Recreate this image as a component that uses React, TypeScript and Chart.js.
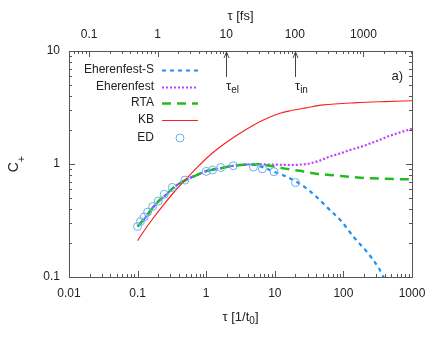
import { useEffect, useRef } from 'react';
import { Chart, registerables } from 'chart.js';

Chart.register(...registerables);

// ---- data ----
const ehrSX = [0.1, 0.13, 0.166, 0.2, 0.26, 0.33, 0.5, 0.7, 1, 1.6, 2.5, 4, 5.5, 8, 9.6, 13, 16.6, 24.8, 38, 60, 94, 140, 218, 322, 420];
const ehrSY = [0.28, 0.335, 0.41, 0.465, 0.535, 0.615, 0.72, 0.79, 0.865, 0.916, 0.965, 0.99, 0.97, 0.9, 0.855, 0.8, 0.747, 0.652, 0.53, 0.405, 0.31, 0.227, 0.168, 0.122, 0.09];

const ehrX = [0.1, 0.13, 0.166, 0.2, 0.26, 0.33, 0.5, 0.7, 1, 1.6, 2.5, 4, 5.5, 8, 12, 17, 25, 32, 45, 63, 90, 125, 180, 245, 350, 480, 700, 1000];
const ehrY = [0.28, 0.335, 0.41, 0.465, 0.535, 0.615, 0.72, 0.79, 0.865, 0.916, 0.965, 0.99, 0.995, 0.99, 0.985, 0.98, 0.99, 1.01, 1.07, 1.16, 1.24, 1.33, 1.42, 1.52, 1.65, 1.78, 1.92, 2.05];

const rtaX = [0.1, 0.13, 0.166, 0.2, 0.26, 0.33, 0.5, 0.7, 1, 1.6, 2.5, 4, 5.5, 8, 14, 23, 40, 63, 100, 176, 400, 1000];
const rtaY = [0.28, 0.335, 0.41, 0.465, 0.535, 0.615, 0.72, 0.79, 0.865, 0.916, 0.965, 0.99, 0.995, 0.97, 0.91, 0.87, 0.82, 0.8, 0.78, 0.756, 0.74, 0.73];

const kbX = [0.1, 0.115, 0.162, 0.237, 0.351, 0.52, 0.746, 1.07, 1.82, 3.11, 4.65, 6.8, 11.9, 16.7, 28.5, 51, 156, 404, 1000];
const kbY = [0.21, 0.239, 0.321, 0.433, 0.577, 0.746, 0.937, 1.16, 1.5, 1.87, 2.17, 2.45, 2.81, 2.96, 3.14, 3.33, 3.49, 3.57, 3.63];

const edX = [0.1, 0.11, 0.125, 0.14, 0.166, 0.2, 0.245, 0.32, 0.49, 1.0, 1.24, 1.63, 2.48, 4.9, 6.6, 9.7, 20];
const edY = [0.28, 0.31, 0.34, 0.375, 0.42, 0.47, 0.54, 0.62, 0.72, 0.86, 0.885, 0.93, 0.965, 0.94, 0.905, 0.855, 0.685];

const seriesNames = ['Eherenfest-S', 'Eherenfest', 'RTA', 'KB', 'ED'];

const xTickValues = [0.01, 0.1, 1, 10, 100, 1000];
const xTickLabels = ['0.01', '0.1', '1', '10', '100', '1000'];
const yTickValues = [0.1, 1, 10];
const yTickLabels = ['0.1', '1', '10'];
const fsTickValues = [0.1, 1, 10, 100, 1000];
const fsTickLabels = ['0.1', '1', '10', '100', '1000'];
const fsPerT0 = 5.1;
const markerFs = [10, 100];
const markerSub = ['el', 'in'];

const X_MIN = 0.01, X_MAX = 1000, Y_MIN = 0.1, Y_MAX = 10;

const FONT = '"Liberation Sans", Arial, sans-serif';
const C_BLUE = '#2090f0';
const C_MAG = '#c040ff';
const C_GREEN = '#22bb22';
const C_RED = '#ff2020';
const C_ED = '#6ab0f0';
const C_AXIS = '#555555';
const C_TEXT = '#222222';

const pts = (xs: number[], ys: number[]) => xs.map((x, i) => ({ x, y: ys[i] }));

function drawSubText(ctx: CanvasRenderingContext2D, x: number, y: number, main: string, sub: string, size: number, align: 'left' | 'center', tail = '', subShift = 0.3) {
  ctx.font = `${size}px ${FONT}`;
  const wMain = ctx.measureText(main).width;
  const subSize = Math.round(size * 0.75);
  ctx.font = `${subSize}px ${FONT}`;
  const wSub = ctx.measureText(sub).width;
  ctx.font = `${size}px ${FONT}`;
  const wTail = ctx.measureText(tail).width;
  const total = wMain + wSub + wTail;
  const x0 = align === 'center' ? x - total / 2 : x;
  ctx.textAlign = 'left';
  ctx.textBaseline = 'middle';
  ctx.fillText(main, x0, y);
  ctx.font = `${subSize}px ${FONT}`;
  ctx.fillText(sub, x0 + wMain, y + size * subShift);
  ctx.font = `${size}px ${FONT}`;
  if (tail) ctx.fillText(tail, x0 + wMain + wSub, y);
}

const decor = {
  id: 'decor',
  afterDraw(chart: any) {
    const ctx: CanvasRenderingContext2D = chart.ctx;
    const { left, right, top, bottom } = chart.chartArea;
    const xs = chart.scales.x, x2 = chart.scales.x2, ys = chart.scales.y;
    ctx.save();
    // frame
    ctx.strokeStyle = C_AXIS;
    ctx.lineWidth = 1;
    ctx.strokeRect(Math.round(left) + 0.5, Math.round(top) + 0.5, Math.round(right - left), Math.round(bottom - top));
    ctx.beginPath();
    const eps = 1e-9;
    // bottom x ticks
    for (let e = -2; e <= 3; e++) {
      for (let m = 1; m <= 9; m++) {
        const v = m * Math.pow(10, e);
        if (v < xs.min * (1 - eps) || v > xs.max * (1 + eps)) continue;
        const px = Math.round(xs.getPixelForValue(v)) + 0.5;
        const len = m === 1 ? 6 : 3;
        ctx.moveTo(px, bottom);
        ctx.lineTo(px, bottom - len);
      }
    }
    // top fs ticks
    for (let e = -2; e <= 4; e++) {
      for (let m = 1; m <= 9; m++) {
        const v = m * Math.pow(10, e);
        if (v < x2.min * (1 - eps) || v > x2.max * (1 + eps)) continue;
        const px = Math.round(x2.getPixelForValue(v)) + 0.5;
        const len = m === 1 ? 6 : 3;
        ctx.moveTo(px, top);
        ctx.lineTo(px, top + len);
      }
    }
    // y ticks left & right
    for (let e = -1; e <= 1; e++) {
      for (let m = 1; m <= 9; m++) {
        const v = m * Math.pow(10, e);
        if (v < ys.min * (1 - eps) || v > ys.max * (1 + eps)) continue;
        const py = Math.round(ys.getPixelForValue(v)) + 0.5;
        const len = m === 1 ? 6 : 3;
        ctx.moveTo(left, py);
        ctx.lineTo(left + len, py);
        ctx.moveTo(right, py);
        ctx.lineTo(right - len, py);
      }
    }
    ctx.stroke();

    // arrows for tau_el, tau_in
    ctx.strokeStyle = '#444';
    ctx.fillStyle = C_TEXT;
    markerFs.forEach((fs, i) => {
      const px = Math.round(x2.getPixelForValue(fs)) + 0.5;
      ctx.beginPath();
      ctx.moveTo(px, top + 1);
      ctx.lineTo(px, top + 26);
      ctx.moveTo(px - 2.5, top + 7);
      ctx.lineTo(px, top + 1);
      ctx.lineTo(px + 2.5, top + 7);
      ctx.stroke();
      drawSubText(ctx, px - 0.5, top + 35, 'τ', markerSub[i], 13, 'left');
    });

    // panel label
    ctx.font = `13px ${FONT}`;
    ctx.textAlign = 'right';
    ctx.textBaseline = 'middle';
    ctx.fillText('a)', 403, 76);

    // axis titles
    ctx.font = `13px ${FONT}`;
    ctx.textAlign = 'center';
    ctx.fillText('τ [fs]', (left + right) / 2, 16);
    drawSubText(ctx, (left + right) / 2, 317, 'τ [1/t', '0', 13, 'center', ']');
    ctx.save();
    ctx.translate(15, (top + bottom) / 2);
    ctx.rotate(-Math.PI / 2);
    drawSubText(ctx, 0, -1, 'C', '+', 14, 'center', '', 0.55);
    ctx.restore();

    // legend
    const legY = [70, 87, 103, 120, 138];
    chart.data.datasets.forEach((ds: any, i: number) => {
      const y = legY[i];
      ctx.font = `12px ${FONT}`;
      ctx.fillStyle = C_TEXT;
      ctx.textAlign = 'right';
      ctx.textBaseline = 'middle';
      ctx.fillText(ds.label, 154, y);
      if (ds.showLine === false) {
        ctx.beginPath();
        ctx.strokeStyle = ds.borderColor;
        ctx.lineWidth = 1;
        ctx.arc(180, y, ds.pointRadius, 0, Math.PI * 2);
        ctx.stroke();
      } else {
        ctx.beginPath();
        ctx.strokeStyle = ds.borderColor;
        ctx.lineWidth = ds.borderWidth;
        ctx.setLineDash(ds.borderDash || []);
        ctx.moveTo(162, y + 0.5);
        ctx.lineTo(198, y + 0.5);
        ctx.stroke();
        ctx.setLineDash([]);
      }
    });
    ctx.restore();
  },
};

export default function App() {
  const ref = useRef<HTMLCanvasElement>(null);
  useEffect(() => {
    const tickFont = { family: FONT, size: 12 };
    const chart = new Chart(ref.current!, {
      type: 'line',
      data: {
        datasets: [
          { label: seriesNames[0], data: pts(ehrSX, ehrSY), borderColor: C_BLUE, borderWidth: 2.2, borderDash: [4, 4], pointRadius: 0, cubicInterpolationMode: 'monotone', order: 4, fill: false },
          { label: seriesNames[1], data: pts(ehrX, ehrY), borderColor: C_MAG, borderWidth: 2.2, borderDash: [2, 2], pointRadius: 0, cubicInterpolationMode: 'monotone', order: 3, fill: false },
          { label: seriesNames[2], data: pts(rtaX, rtaY), borderColor: C_GREEN, borderWidth: 2.5, borderDash: [9, 6], pointRadius: 0, cubicInterpolationMode: 'monotone', order: 2, fill: false },
          { label: seriesNames[3], data: pts(kbX, kbY), borderColor: C_RED, borderWidth: 1.2, pointRadius: 0, cubicInterpolationMode: 'monotone', order: 1, fill: false },
          { label: seriesNames[4], data: pts(edX, edY), borderColor: C_ED, backgroundColor: 'rgba(0,0,0,0)', borderWidth: 1, showLine: false, pointRadius: 4, pointBorderWidth: 1, pointStyle: 'circle', order: 0 },
        ] as any,
      },
      options: {
        responsive: false,
        devicePixelRatio: 1,
        animation: false,
        events: [],
        layout: { padding: { left: 0, right: 24, top: 0, bottom: 0 } },
        plugins: { legend: { display: false }, tooltip: { enabled: false }, title: { display: false } },
        scales: {
          x: {
            type: 'logarithmic',
            position: 'bottom',
            min: X_MIN,
            max: X_MAX,
            grid: { display: false, drawTicks: false },
            border: { display: false },
            afterBuildTicks: (s: any) => { s.ticks = xTickValues.map((v) => ({ value: v })); },
            afterFit: (s: any) => { s.height = 72; },
            ticks: { autoSkip: false, maxRotation: 0, padding: 9, color: C_TEXT, font: tickFont, callback: (_v: any, i: number) => xTickLabels[i] },
          },
          x2: {
            type: 'logarithmic',
            position: 'top',
            axis: 'x',
            min: X_MIN * fsPerT0,
            max: X_MAX * fsPerT0,
            grid: { display: false, drawTicks: false },
            border: { display: false },
            afterBuildTicks: (s: any) => { s.ticks = fsTickValues.map((v) => ({ value: v })); },
            afterFit: (s: any) => { s.height = 51; },
            ticks: { autoSkip: false, maxRotation: 0, padding: 9, color: C_TEXT, font: tickFont, callback: (_v: any, i: number) => fsTickLabels[i] },
          },
          y: {
            type: 'logarithmic',
            position: 'left',
            min: Y_MIN,
            max: Y_MAX,
            grid: { display: false, drawTicks: false },
            border: { display: false },
            afterBuildTicks: (s: any) => { s.ticks = yTickValues.map((v) => ({ value: v })); },
            afterFit: (s: any) => { s.width = 69; },
            ticks: { autoSkip: false, padding: 9, color: C_TEXT, font: tickFont, callback: (_v: any, i: number) => yTickLabels[i] },
          },
        },
      } as any,
      plugins: [decor],
    });
    return () => chart.destroy();
  }, []);
  return (
    <div style={{ position: 'absolute', left: 0, top: 0, width: 436, height: 349, background: '#fff' }}>
      <canvas ref={ref} width={436} height={349} style={{ width: 436, height: 349, display: 'block' }} />
    </div>
  );
}
